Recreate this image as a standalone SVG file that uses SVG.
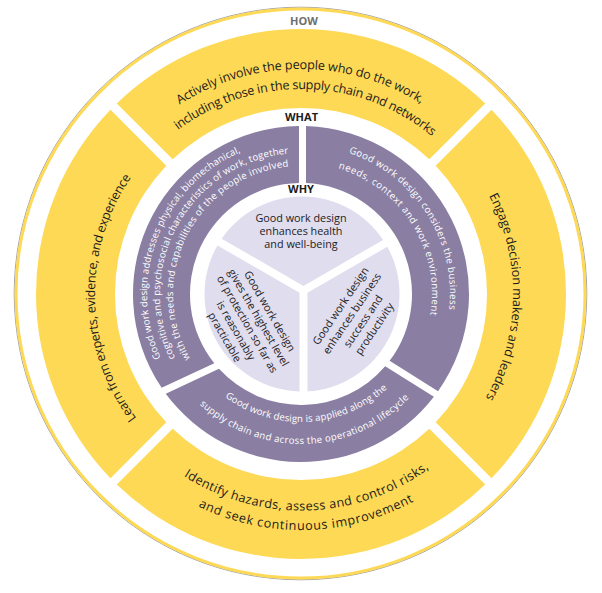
<svg xmlns="http://www.w3.org/2000/svg" xmlns:xlink="http://www.w3.org/1999/xlink" width="602" height="593" viewBox="0 0 602 593">
<style>
.y{fill:#FDD955}
.p{fill:#8A7FA3}
.l{fill:#DFDDEE}
.ty{font-family:"Open Sans","Noto Sans",sans-serif;font-size:12.6px;fill:#1e1b1c}
.tp{font-family:"Open Sans","Noto Sans",sans-serif;font-size:9.6px;fill:#ffffff}
.tl{font-family:"Open Sans","Noto Sans",sans-serif;font-size:10.8px;fill:#1e1b1c;text-anchor:middle}
.lab{font-family:"Open Sans","Noto Sans",sans-serif;font-size:11px;font-weight:bold;text-anchor:middle;fill:#1e1b1c}
</style>
<defs>
<path id="cw225" d="M301,519 A225,225 0 1,1 301,69 A225,225 0 1,1 301,519"/>
<path id="cw205" d="M301,499 A205,205 0 1,1 301,89 A205,205 0 1,1 301,499"/>
<path id="cw212" d="M301,506 A212,212 0 1,1 301,82 A212,212 0 1,1 301,506"/>
<path id="cw206" d="M301,500 A206,206 0 1,1 301,88 A206,206 0 1,1 301,500"/>
<path id="ccw216" d="M301,77.5 A216.5,216.5 0 1,0 301,510.5 A216.5,216.5 0 1,0 301,77.5"/>
<path id="ccw236" d="M301,58 A236,236 0 1,0 301,530 A236,236 0 1,0 301,58"/>
<path id="cw154" d="M301,448 A154,154 0 1,1 301,140 A154,154 0 1,1 301,448"/>
<path id="cw141" d="M301,435 A141,141 0 1,1 301,153 A141,141 0 1,1 301,435"/>
<path id="cw128" d="M301,422 A128,128 0 1,1 301,166 A128,128 0 1,1 301,422"/>
<path id="cw149" d="M301,443 A149,149 0 1,1 301,145 A149,149 0 1,1 301,443"/>
<path id="cw131" d="M301,425 A131,131 0 1,1 301,163 A131,131 0 1,1 301,425"/>
<path id="ccw128" d="M301,166 A128,128 0 1,0 301,422 A128,128 0 1,0 301,166"/>
<path id="ccw150" d="M301,144 A150,150 0 1,0 301,444 A150,150 0 1,0 301,144"/>
</defs>
<rect width="602" height="593" fill="#ffffff"/>
<g id="outer-ring">
<circle cx="300.5" cy="293.5" r="286.3" fill="none" stroke="#5c5c5c" stroke-width="0.8" stroke-opacity="0.7"/>
<circle cx="300.5" cy="293.5" r="284.5" fill="none" stroke="#FDD955" stroke-width="3"/>
<text class="lab" x="304" y="25" style="fill:#6e6e6e">HOW</text>
</g>
<g id="how-top">
<path class="y" d="M116.8,103.5 A265,265 0 0,1 485.2,103.5 L429.3,159.3 A186,186 0 0,0 172.7,159.3 Z"/>
<text class="ty"><textPath href="#cw225" xlink:href="#cw225" startOffset="49.94%" text-anchor="middle" textLength="255">Actively involve the people who do the work,</textPath></text>
<text class="ty"><textPath href="#cw205" xlink:href="#cw205" startOffset="50.39%" text-anchor="middle" textLength="274">including those in the supply chain and networks</textPath></text>
</g>
<g id="how-right">
<path class="y" d="M491.5,109.8 A265,265 0 0,1 491.5,478.2 L435.7,422.3 A186,186 0 0,0 435.7,165.7 Z"/>
<text class="ty"><textPath href="#cw212" xlink:href="#cw212" startOffset="75.25%" text-anchor="middle" textLength="211">Engage decision makers and leaders</textPath></text>
</g>
<g id="how-bottom">
<path class="y" d="M485.2,484.5 A265,265 0 0,1 116.8,484.5 L172.7,428.7 A186,186 0 0,0 429.3,428.7 Z"/>
<text class="ty"><textPath href="#ccw216" xlink:href="#ccw216" startOffset="50.49%" text-anchor="middle" textLength="261">Identify hazards, assess and control risks,</textPath></text>
<text class="ty"><textPath href="#ccw236" xlink:href="#ccw236" startOffset="50.38%" text-anchor="middle" textLength="224">and seek continuous improvement</textPath></text>
</g>
<g id="how-left">
<path class="y" d="M110.5,478.2 A265,265 0 0,1 110.5,109.8 L166.3,165.7 A186,186 0 0,0 166.3,422.3 Z"/>
<text class="ty"><textPath href="#cw206" xlink:href="#cw206" startOffset="24.64%" text-anchor="middle" textLength="257">Learn from experts, evidence, and experience</textPath></text>
</g>
<g id="what-label">
<text class="lab" x="301.5" y="120.7">WHAT</text>
</g>
<g id="what-upper-left">
<path class="p" d="M161.67,387.87 A168,168 0 0,1 299,126.01 L299,183.02 A111,111 0 0,0 214.29,363.3 Z"/>
<text class="tp"><textPath href="#cw154" xlink:href="#cw154" startOffset="30.9%" text-anchor="middle" textLength="246">Good work design addresses physical, biomechanical,</textPath></text>
<text class="tp"><textPath href="#cw141" xlink:href="#cw141" startOffset="33.06%" text-anchor="middle" textLength="275">cognitive and psychosocial characteristics of work, together</textPath></text>
<text class="tp"><textPath href="#cw128" xlink:href="#cw128" startOffset="32.53%" text-anchor="middle" textLength="256">with the needs and capabilities of the people involved</textPath></text>
</g>
<g id="what-upper-right">
<path class="p" d="M306,126.07 A168,168 0 0,1 438.05,391.15 L389.6,360.87 A111,111 0 0,0 306,183.11 Z"/>
<text class="tp"><textPath href="#cw149" xlink:href="#cw149" startOffset="65.92%" text-anchor="middle" textLength="201">Good work design considers the business</textPath></text>
<text class="tp"><textPath href="#cw131" xlink:href="#cw131" startOffset="66.08%" text-anchor="middle" textLength="189">needs, context and work environment</textPath></text>
</g>
<g id="what-bottom">
<path class="p" d="M433.88,396.8 A168,168 0 0,1 165.76,393.68 L219,368.82 A111,111 0 0,0 385.18,366.36 Z"/>
<text class="tp"><textPath href="#ccw128" xlink:href="#ccw128" startOffset="50.83%" text-anchor="middle" textLength="176">Good work design is applied along the</textPath></text>
<text class="tp"><textPath href="#ccw150" xlink:href="#ccw150" startOffset="50.5%" text-anchor="middle" textLength="232">supply chain and across the operational lifecycle</textPath></text>
</g>
<g id="why-label">
<text class="lab" x="301" y="193.3">WHY</text>
</g>
<g id="why-top">
<path class="l" d="M303.5,285.88 L221.72,238.67 A97.5,97.5 0 0,1 383.12,239.91 Z"/>
<text class="tl" x="301" y="221.5">Good work design</text>
<text class="tl" x="301" y="234.5">enhances health</text>
<text class="tl" x="301" y="247.5">and well-being</text>
</g>
<g id="why-lower-left">
<path class="l" d="M299.5,292.81 L299.5,391.47 A97.5,97.5 0 0,1 217.45,245.44 Z"/>
<g transform="translate(247.5,324) rotate(60)">
<text class="tl" x="0" y="-22">Good work design</text>
<text class="tl" x="0" y="-9">gives the highest level</text>
<text class="tl" x="0" y="4">of protection so far as</text>
<text class="tl" x="0" y="17">is reasonably</text>
<text class="tl" x="0" y="30">practicable</text>
</g>
</g>
<g id="why-lower-right">
<path class="l" d="M307.5,292.81 L387.28,246.75 A97.5,97.5 0 0,1 307.5,391.35 Z"/>
<g transform="translate(357,317) rotate(-56)">
<text class="tl" x="0" y="-16">Good work design</text>
<text class="tl" x="0" y="-2.4">enhances business</text>
<text class="tl" x="0" y="11.2">success and</text>
<text class="tl" x="0" y="24.8">productivity</text>
</g>
</g>
<g id="connectors"/>
</svg>
